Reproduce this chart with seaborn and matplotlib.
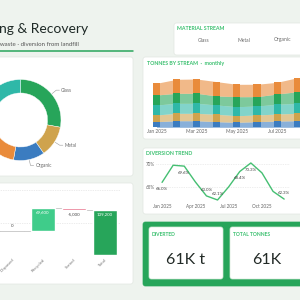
import matplotlib
matplotlib.use('Agg')
import matplotlib.pyplot as plt
import seaborn as sns
import numpy as np
import pandas as pd
from matplotlib.patches import FancyBboxPatch
from matplotlib.lines import Line2D

#%% data
streams = ['Glass', 'Metal', 'Organic', 'Paper', 'Plastic']
stream_tonnes = [17000, 7600, 7600, 13500, 15300]
stream_colors = ['#27a55a', '#cfa34d', '#3b7cc0', '#e98b3b', '#2fb8a8']
labelled_streams = ['Glass', 'Metal', 'Organic']

months = ['Jan 2025', 'Feb 2025', 'Mar 2025', 'Apr 2025', 'May 2025', 'Jun 2025',
          'Jul 2025', 'Aug 2025', 'Sep 2025', 'Oct 2025', 'Nov 2025', 'Dec 2025']
organic_t = [655, 770, 770, 655, 585, 655, 735, 770, 760, 720, 690, 670]
metal_t = [785, 865, 865, 865, 770, 785, 820, 865, 880, 850, 820, 800]
plastic_t = [1170, 1170, 1170, 1090, 1055, 1055, 1135, 1170, 1180, 1150, 1120, 1100]
glass_t = [1170, 1170, 1170, 1055, 1170, 1090, 1205, 1355, 1380, 1300, 1240, 1200]
paper_t = [1370, 1640, 1675, 1675, 1450, 1450, 1370, 1640, 1660, 1600, 1520, 1480]

diversion_pct = [66.0, 69.8, 69.6, 66.1, 63.0, 62.1, 65.0, 68.4, 70.3, 68.1, 64.0, 62.3]
labelled_months = ['Jan 2025', 'Mar 2025', 'May 2025', 'Jun 2025', 'Aug 2025', 'Sep 2025', 'Dec 2025']

wf_steps = ['Collected', 'Disposed', 'Recycled', 'Sorted']
wf_deltas = [74600, 0, 69600, -5000]
wf_total_name = 'Total'

kpi_diverted = '61K t'
kpi_total = '61K'

#%% style
BG = '#eef3ee'
GREEN = '#2aa65c'
GREY = '#6b6b6b'

sns.set_theme(style='white')
plt.rcParams['font.family'] = ['Lato', 'DejaVu Sans']

W = H = 300
fig = plt.figure(figsize=(3, 3), dpi=100, facecolor=BG)


def add_ax(x0, y0, x1, y1):
    ax = fig.add_axes([x0 / W, 1 - y1 / H, (x1 - x0) / W, (y1 - y0) / H])
    ax.set_facecolor('none')
    return ax


def panel(x0, y0, x1, y1, fc='white', ec='#e1e7e1', z=-2):
    fig.patches.append(FancyBboxPatch(
        (x0 / W, 1 - y1 / H), (x1 - x0) / W, (y1 - y0) / H,
        boxstyle='round,pad=0,rounding_size=0.008', transform=fig.transFigure,
        fc=fc, ec=ec, lw=0.5, zorder=z))


def ftext(x, y, s, **kw):
    fig.text(x / W, 1 - y / H, s, **kw)


#%% header
ftext(88, 33, 'Recycling & Recovery', ha='right', va='baseline', fontsize=10, color='#1f2a27')
ftext(79, 46, 'Municipal solid waste \u00b7 diversion from landfill', ha='right', va='baseline',
      fontsize=4.4, color='#555555')
fig.lines.append(Line2D([0, 133 / W], [1 - 51 / H] * 2, transform=fig.transFigure, color=GREEN, lw=1.1))

# material stream legend
panel(174, 23, 310, 55)
ftext(177, 28.5, 'MATERIAL STREAM', ha='left', va='center', fontsize=3.8, weight='bold', color='#3cc070')
for i, s in enumerate(streams):
    ftext(204 + 39.5 * i, 40, s, ha='center', va='center', fontsize=3.6, color=GREY)

#%% donut
panel(-10, 57, 133, 176)
ax = add_ax(20.5 - 40.5, 120 - 40.5, 20.5 + 40.5, 120 + 40.5)
wedges, _ = ax.pie(stream_tonnes, colors=stream_colors, startangle=90, counterclock=False,
                   wedgeprops=dict(width=0.333, edgecolor='white', linewidth=0.3))
ax.set_xlim(-1, 1)
ax.set_ylim(-1, 1)
for w, s in zip(wedges, streams):
    w.set_clip_on(False)
    if s not in labelled_streams:
        continue
    th = np.deg2rad((w.theta1 + w.theta2) / 2)
    c, sn = np.cos(th), np.sin(th)
    x1, y1 = 1.15 * c, 1.15 * sn
    x2 = x1 + 0.08 * np.sign(c)
    ax.plot([1.02 * c, x1, x2], [1.02 * sn, y1, y1], color='#9a9a9a', lw=0.4, clip_on=False)
    ax.text(x2 + 0.04 * np.sign(c), y1, s, ha='left' if c > 0 else 'right', va='center',
            fontsize=3.4, color=GREY)

#%% waterfall
panel(-10, 183, 133, 284)
ax = add_ax(-34.5, 190, 120.5, 255)
cats = wf_steps + [wf_total_name]
cum = np.cumsum(wf_deltas)
bottoms = list(cum - np.array(wf_deltas)) + [0]
heights = list(wf_deltas) + [cum[-1]]
ax.set_xlim(-0.5, len(cats) - 0.5)
ax.set_ylim(0, 174000)
ax.set_yticks([0, 100000, 200000])
ax.yaxis.grid(True, color='#d9d9d9', lw=0.5, ls=(0, (1, 1.5)))
ax.set_yticklabels([])
bw = 0.77
for i, (b, h) in enumerate(zip(bottoms, heights)):
    if i == len(cats) - 1:
        col = '#27a55a'
    elif h > 0:
        col = '#3fcc8a'
    else:
        col = '#e45a77'
    if h == 0:
        ax.plot([i - bw / 2, i + bw / 2], [b, b], color='#c4c4c4', lw=0.6)
        ax.annotate('0', (i, b), xytext=(0, 2), textcoords='offset points', ha='center', va='bottom',
                    fontsize=3.2, color='#444444')
    else:
        ax.bar(i, h, bottom=b, width=bw, color=col, zorder=2)
        if h > 0:
            ax.annotate(f'{h:,.0f}', (i, b + h), xytext=(0, -2), textcoords='offset points',
                        ha='center', va='top', fontsize=3.2, color='white', zorder=3)
        else:
            ax.annotate(f'{h:,.0f}', (i, b + h), xytext=(0, -2), textcoords='offset points',
                        ha='center', va='top', fontsize=3.2, color='#444444', zorder=3)
    if i < len(cats) - 1:
        lvl = b + h
        ax.plot([i + bw / 2, i + 1 - bw / 2], [lvl, lvl], color='#c4c4c4', lw=0.6, zorder=1)
ax.set_xticks(range(len(cats)))
ax.set_xticklabels(cats, rotation=45, ha='right', rotation_mode='anchor', fontsize=3.2, color='#777777')
ax.tick_params(axis='both', length=0, pad=2)
sns.despine(ax=ax, left=True, bottom=True)

#%% tonnes by stream
panel(143, 57, 310, 139)
ftext(147, 63, 'TONNES BY STREAM  \u00b7  monthly', ha='left', va='center', fontsize=3.8,
      weight='bold', color='#3cc070')
month_px = 20.1
ax = add_ax(153, 72, 153 + (11.5 + 0.174) * month_px, 127.3)
layers = pd.DataFrame({'Organic': organic_t, 'Metal': metal_t, 'Plastic': plastic_t,
                       'Glass': glass_t, 'Paper': paper_t}, index=months)
layer_colors = [stream_colors[streams.index(c)] for c in layers.columns]
xs = np.arange(len(months))
ax.stackplot(xs, layers.T.values, colors=layer_colors, alpha=0.6, lw=0)
base = np.zeros(len(months))
for col, c in zip(layers.columns, layer_colors):
    ax.bar(xs, layers[col], bottom=base, width=0.35, color=c, lw=0, zorder=2)
    base += layers[col].values
ax.set_xlim(-0.174, 11.5)
ax.set_ylim(0, 6470)
ax.set_xticks(xs[::2])
ax.set_xticklabels(months[::2], fontsize=3.5, color='#666666')
ax.set_yticks([])
ax.tick_params(axis='x', length=0, pad=1.5)
sns.despine(ax=ax, left=True, bottom=True)

#%% diversion trend
panel(143, 148, 310, 214)
ftext(146, 153.5, 'DIVERSION TREND', ha='left', va='center', fontsize=3.8, weight='bold', color='#3cc070')
ax = add_ax(156.5, 158, 156.5 + 12 * 11.1, 203)
trend = pd.DataFrame({'month': np.arange(len(months)), 'pct': diversion_pct})
sns.lineplot(data=trend, x='month', y='pct', ax=ax, color='#45bf72', lw=1.0)
ax.set_xlim(-0.5, 11.5)
ax.set_ylim(61.43, 71.4)
ax.set_yticks([65, 70])
ax.set_yticklabels(['65%', '70%'], fontsize=3.3, color='#666666')
ax.set_xticks([0, 3, 6, 9])
ax.set_xticklabels([months[i] for i in [0, 3, 6, 9]], fontsize=3.3, color='#666666')
ax.yaxis.grid(True, color='#dedede', lw=0.5, ls=(0, (1, 1.5)))
ax.tick_params(axis='both', length=0, pad=1)
ax.set_xlabel('')
ax.set_ylabel('')
sns.despine(ax=ax, left=True, bottom=True)
for i, (m, v) in enumerate(zip(months, diversion_pct)):
    if m not in labelled_months:
        continue
    off = 3 if v < 64 else -3.5
    ax.annotate(f'{v:.1f}%', (i, v), xytext=(0, off), textcoords='offset points', ha='center',
                va='bottom' if off > 0 else 'top', fontsize=3.2, color='#444444', annotation_clip=False)

#%% KPI cards
panel(143, 222, 310, 286, fc='#27a55a', ec='#27a55a', z=-3)
panel(149, 227, 223, 279, ec='#d5ead9')
panel(230, 227, 310, 279, ec='#d5ead9')
ftext(152, 235, 'DIVERTED', ha='left', va='center', fontsize=3.6, weight='bold', color='#3cc070')
ftext(233, 235, 'TOTAL TONNES', ha='left', va='center', fontsize=3.6, weight='bold', color='#3cc070')
ftext(186, 259.5, kpi_diverted, ha='center', va='center', fontsize=11.5, color='#222a26')
ftext(267, 259.5, kpi_total, ha='center', va='center', fontsize=11.5, color='#222a26')

fig.savefig('out.png', dpi=100, facecolor=BG)
